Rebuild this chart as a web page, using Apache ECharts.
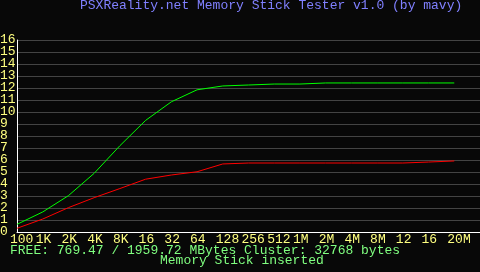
<!DOCTYPE html>
<html>
<head>
<meta charset="utf-8">
<script src="https://cdn.jsdelivr.net/npm/echarts@6/dist/echarts.min.js"></script>
<style>
html,body{margin:0;padding:0;background:#080808;}
#c{width:480px;height:272px;}
</style>
</head>
<body>
<div id="c"></div>
<script>
// Tick labels (test block sizes)
var xLabels = ['100','1K','2K','4K','8K','16','32','64','128','256','512','1M','2M','4M','8M','12','16','20M'];
// Y tick labels (MB/s)
var yLabels = ['0','1','2','3','4','5','6','7','8','9','10','11','12','13','14','15','16'];
// Series values (MB/s)
var writeSpeed = [0.64, 1.67, 3.03, 4.89, 7.19, 9.3, 10.85, 11.85, 12.17, 12.25, 12.33, 12.33, 12.42, 12.42, 12.42, 12.42, 12.42, 12.42];
var readSpeed  = [0.31, 1.08, 2.03, 2.86, 3.62, 4.4, 4.75, 5.02, 5.67, 5.75, 5.75, 5.75, 5.75, 5.75, 5.75, 5.75, 5.83, 5.92];
var yMin = 0, yMax = 16;

var FONT = 'Liberation Mono';
var cats = xLabels.concat(['']);

var chart = echarts.init(document.getElementById('c'), null, {renderer: 'canvas'});
chart.setOption({
  backgroundColor: '#080808',
  animation: false,
  title: [
    {text: 'PSXReality.net Memory Stick Tester v1.0 (by mavy)', left: 80, top: -1, padding: 0,
     textStyle: {color: '#8080ff', fontFamily: FONT, fontSize: 13, fontWeight: 'normal'}},
    {text: 'FREE: 769.47 / 1959.72 MBytes Cluster: 32768 bytes', left: 10, top: 244, padding: 0,
     textStyle: {color: '#80ff80', fontFamily: FONT, fontSize: 13, fontWeight: 'normal'}},
    {text: 'Memory Stick inserted', left: 160, top: 254, padding: 0,
     textStyle: {color: '#80ff80', fontFamily: FONT, fontSize: 13, fontWeight: 'normal'}}
  ],
  grid: [
    {left: 17, right: 0, top: 40, bottom: 40, containLabel: false, outerBoundsMode: 'none'},
    {left: 10, right: 7, top: 40, bottom: 40, containLabel: false, outerBoundsMode: 'none'}
  ],
  xAxis: [
    {type: 'category', gridIndex: 0, data: cats, boundaryGap: false,
     axisLine: {show: true, lineStyle: {color: '#ffffff', width: 1}},
     axisTick: {show: false}, axisLabel: {show: false}, splitLine: {show: false}},
    {type: 'category', gridIndex: 1, data: cats, boundaryGap: false,
     axisLine: {show: false}, axisTick: {show: false}, splitLine: {show: false},
     axisLabel: {show: true, interval: 0, align: 'left', margin: 1, color: '#ffff80',
       fontFamily: FONT, fontSize: 13, hideOverlap: false}}
  ],
  yAxis: [
    {type: 'value', gridIndex: 0, min: yMin, max: yMax, interval: 1,
     axisLine: {show: true, lineStyle: {color: '#ffffff', width: 1}},
     axisTick: {show: false},
     axisLabel: {show: false},
     splitLine: {show: true, lineStyle: {color: '#444444', width: 1}}},
    {type: 'category', gridIndex: 1, data: yLabels, boundaryGap: false, position: 'left',
     axisLine: {show: false}, axisTick: {show: false}, splitLine: {show: false},
     axisLabel: {show: true, interval: 0, align: 'left', margin: 10, color: '#ffff80',
       fontFamily: FONT, fontSize: 13, hideOverlap: false}}
  ],
  series: [
    {type: 'line', name: 'write', xAxisIndex: 0, yAxisIndex: 0, data: writeSpeed,
     showSymbol: false, symbol: 'none', lineStyle: {color: '#00ff00', width: 1}, itemStyle: {color: '#00ff00'}},
    {type: 'line', name: 'read', xAxisIndex: 0, yAxisIndex: 0, data: readSpeed,
     showSymbol: false, symbol: 'none', lineStyle: {color: '#ff0000', width: 1}, itemStyle: {color: '#ff0000'}}
  ]
});
</script>
</body>
</html>
